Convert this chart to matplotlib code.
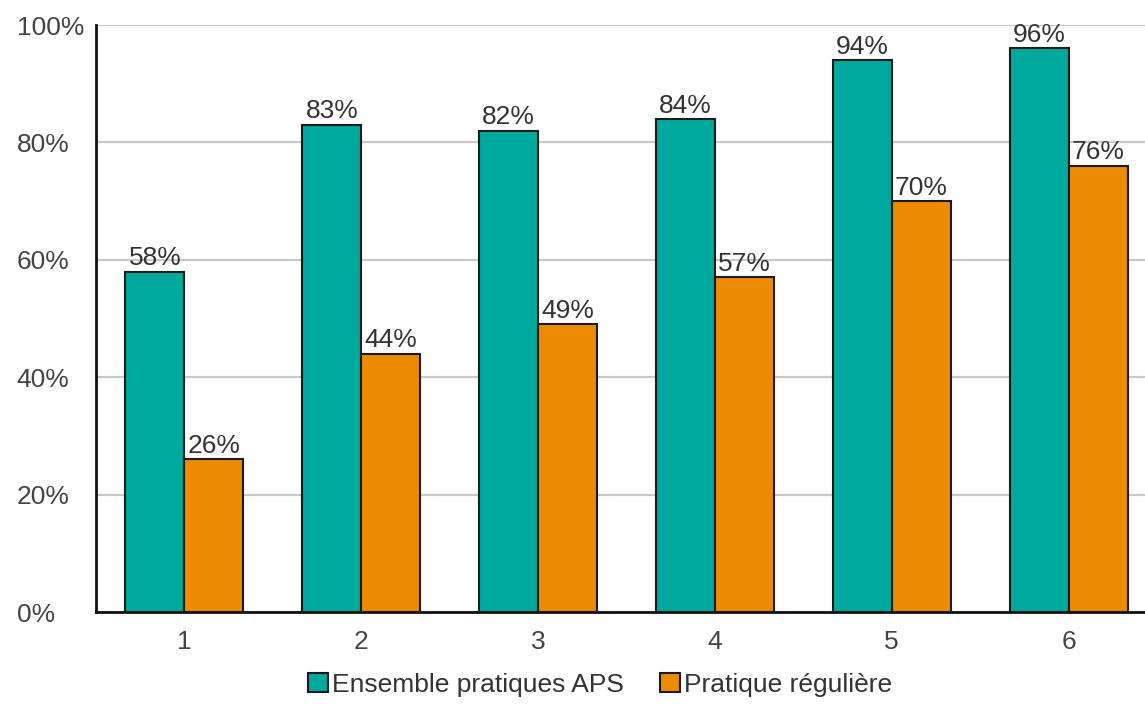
import matplotlib.pyplot as plt
import numpy as np

# categories and the two series (percent)
categories = ['1', '2', '3', '4', '5', '6']
ensemble_aps = [58, 83, 82, 84, 94, 96]
pratique_reguliere = [26, 44, 49, 57, 70, 76]
yticks = [0, 20, 40, 60, 80, 100]

teal = '#00a99d'
orange = '#ec8a00'

plt.rcParams['font.family'] = ['Liberation Sans', 'DejaVu Sans']

fig = plt.figure(figsize=(11.45, 7.14), dpi=100)
# plot area runs a little past the right edge of the figure
ax = fig.add_axes([96 / 1145, 102 / 714, 1061 / 1145, 587 / 714])

x = np.arange(1, len(categories) + 1)
w = 1 / 3
b1 = ax.bar(x - w / 2, ensemble_aps, w, color=teal, edgecolor='#1a1a1a',
            linewidth=1.5, label='Ensemble pratiques APS', zorder=3)
b2 = ax.bar(x + w / 2, pratique_reguliere, w, color=orange, edgecolor='#1a1a1a',
            linewidth=1.5, label='Pratique régulière', zorder=3)

for bars, vals in ((b1, ensemble_aps), (b2, pratique_reguliere)):
    for r, v in zip(bars, vals):
        ax.annotate(f'{v}%', (r.get_x() + r.get_width() / 2, v),
                    xytext=(0, 1), textcoords='offset points',
                    ha='center', va='bottom', fontsize=19, color='#333333',
                    zorder=4)

ax.set_xlim(0.5, 6.5)
ax.set_ylim(0, 100)
ax.set_xticks(x)
ax.set_xticklabels(categories)
ax.set_yticks(yticks)
ax.set_yticklabels([f'{t}%' for t in yticks])
ax.tick_params(length=0, labelsize=19, colors='#444444')
# y labels are left aligned, starting near the figure edge
ax.tick_params(axis='y', pad=57)
for lab in ax.get_yticklabels():
    lab.set_horizontalalignment('left')
ax.tick_params(axis='x', pad=13)

ax.yaxis.grid(True, color='#c8c8c8', linewidth=1.6, zorder=0)
ax.set_axisbelow(True)
for s in ('top', 'right'):
    ax.spines[s].set_visible(False)
for s in ('left', 'bottom'):
    ax.spines[s].set_linewidth(2)
    ax.spines[s].set_color('#111111')

fig.legend(handles=[b1, b2], loc='center', bbox_to_anchor=(600 / 1145, 1 - 685 / 714),
           ncol=2, frameon=False, fontsize=19, handlelength=0.75, handleheight=0.75,
           handletextpad=0.15, columnspacing=1.4, labelcolor='#333333')

plt.savefig('out.png', dpi=100)
